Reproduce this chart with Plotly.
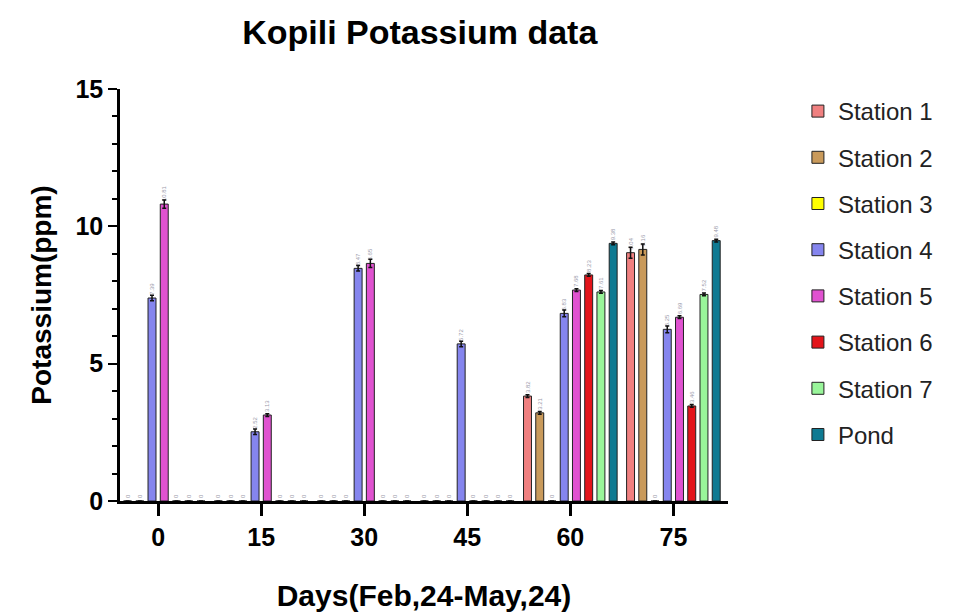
import plotly.graph_objects as go

days = ["0", "15", "30", "45", "60", "75"]
station_names = ["Station 1", "Station 2", "Station 3", "Station 4",
                 "Station 5", "Station 6", "Station 7", "Pond"]

# Potassium (ppm); 0 = no measurement (Prism shows a tiny "0" label)
s1 = [0, 0, 0, 0, 3.82, 9.04]
s2 = [0, 0, 0, 0, 3.21, 9.16]
s3 = [0, 0, 0, 0, 0, 0]
s4 = [7.39, 2.52, 8.47, 5.72, 6.83, 6.25]
s5 = [10.81, 3.13, 8.65, 0, 7.68, 6.69]
s6 = [0, 0, 0, 0, 8.23, 3.46]
s7 = [0, 0, 0, 0, 7.61, 7.52]
pond = [0, 0, 0, 0, 9.38, 9.48]

e1 = [0, 0, 0, 0, 0.05, 0.2]
e2 = [0, 0, 0, 0, 0.05, 0.2]
e3 = [0, 0, 0, 0, 0, 0]
e4 = [0.1, 0.1, 0.1, 0.1, 0.12, 0.12]
e5 = [0.15, 0.05, 0.15, 0, 0.05, 0.05]
e6 = [0, 0, 0, 0, 0.05, 0.05]
e7 = [0, 0, 0, 0, 0.05, 0.05]
ep = [0, 0, 0, 0, 0.05, 0.05]

colors = ["#F08080", "#C99A5B", "#FFFF00", "#8585EE",
          "#E052D0", "#E3141A", "#99F59A", "#0F7A92"]

series = [s1, s2, s3, s4, s5, s6, s7, pond]
errors = [e1, e2, e3, e4, e5, e6, e7, ep]

FONT = "Liberation Sans, Arial, sans-serif"

fig = go.Figure()
for i, (name, vals, err, col) in enumerate(zip(station_names, series, errors, colors)):
    fig.add_trace(go.Bar(
        x=days, y=vals, name=name,
        marker=dict(color=col, line=dict(color="#222222", width=1)),
        error_y=dict(type="data", array=err, visible=True, color="#111111",
                     thickness=1.5, width=2),
        texttemplate="%{y}", textposition="outside", textangle=-90,
        textfont=dict(size=6, color="#9A9AAA", family=FONT),
        constraintext="none", cliponaxis=False,
        legendgroup=name,
    ))

fig.update_layout(
    width=954, height=615,
    margin=dict(l=120, r=226, t=89, b=114),
    paper_bgcolor="white", plot_bgcolor="white",
    barmode="group", bargap=0.05, bargroupgap=0.35,
    title=dict(text="Kopili Potassium data", x=0.44, xanchor="center",
               y=0.948, yanchor="middle",
               font=dict(family=FONT, size=34, color="black", weight="bold")),
    font=dict(family=FONT, color="black"),
    showlegend=True,
    legend=dict(x=1.115, xanchor="left", y=1.0, yanchor="top",
                font=dict(family=FONT, size=24, color="#222222"),
                tracegroupgap=12, traceorder="grouped",
                bgcolor="rgba(0,0,0,0)"),
    xaxis=dict(
        type="category", range=[-0.37, 5.53], automargin=False,
        showline=True, linecolor="black", linewidth=2.5,
        ticks="outside", ticklen=12, tickwidth=2.5, tickcolor="black",
        tickfont=dict(family=FONT, size=25, color="black", weight="bold"),
        showgrid=False, zeroline=False,
        title=dict(text="Days(Feb,24-May,24)", standoff=36,
                   font=dict(family=FONT, size=30, color="black", weight="bold")),
    ),
    yaxis=dict(
        range=[0, 15], tickvals=[0, 5, 10, 15], automargin=False,
        showline=True, linecolor="black", linewidth=2.5,
        ticks="outside", ticklen=9, tickwidth=2, tickcolor="black",
        tickfont=dict(family=FONT, size=25, color="black", weight="bold"),
        minor=dict(dtick=1, ticks="outside", ticklen=5, tickwidth=1.5, tickcolor="black"),
        showgrid=False, zeroline=False,
        title=dict(text="Potassium(ppm)", standoff=16,
                   font=dict(family=FONT, size=28, color="black", weight="bold")),
    ),
)

fig.write_html("out.html")
